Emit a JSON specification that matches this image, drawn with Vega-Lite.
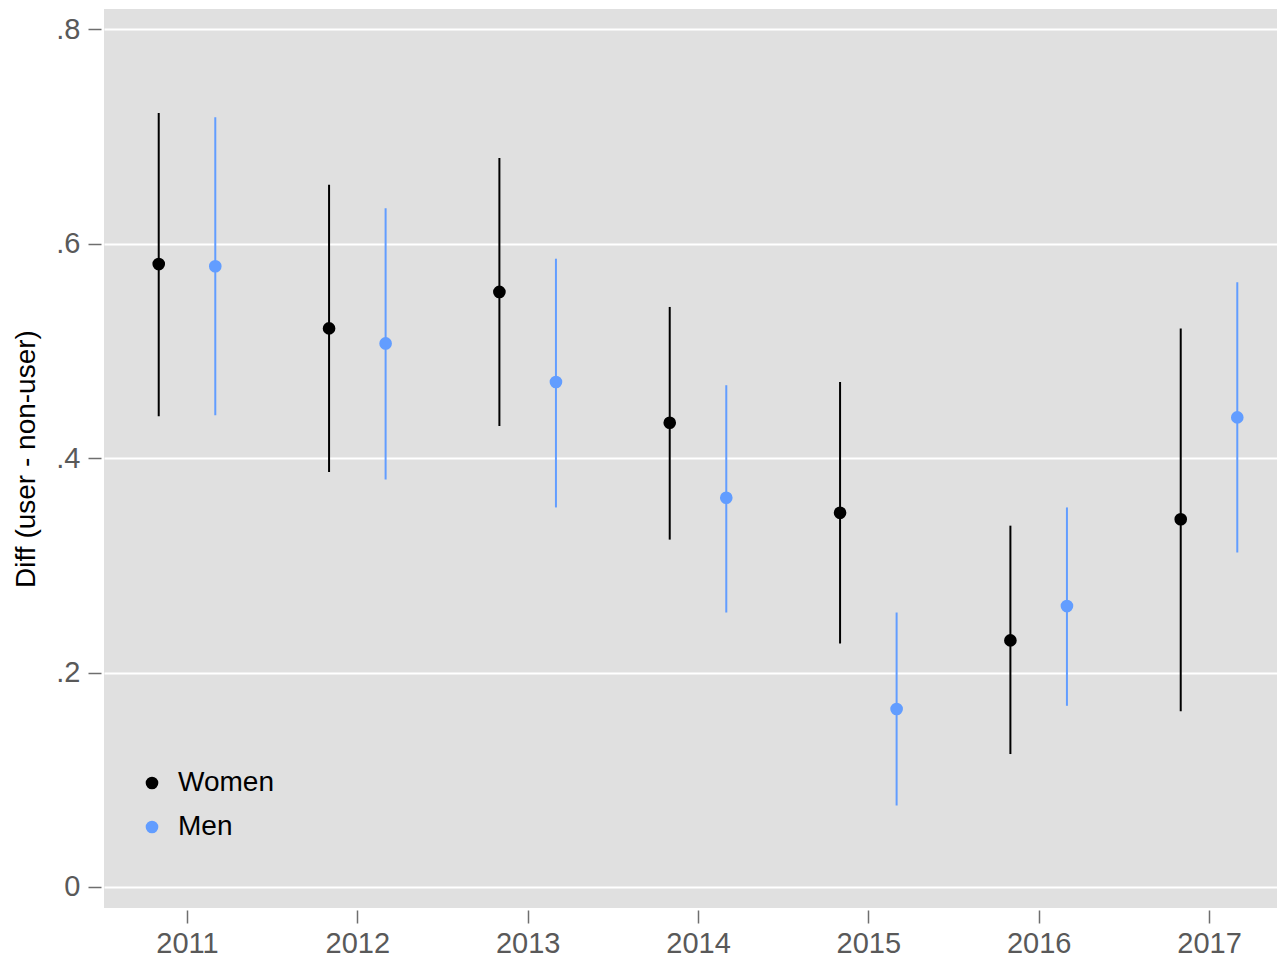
{
  "$schema": "https://vega.github.io/schema/vega-lite/v6.json",
  "width": 1173,
  "height": 899,
  "autosize": {"type": "none"},
  "padding": {"left": 104, "top": 9, "right": 0, "bottom": 51},
  "background": "white",
  "config": {
    "font": "Liberation Sans",
    "view": {"fill": "#e0e0e0", "stroke": null}
  },
  "data": {
    "values": [
      {"year": 2011, "group": "Women", "est": 0.581, "lo": 0.439, "hi": 0.722},
      {"year": 2011, "group": "Men", "est": 0.579, "lo": 0.440, "hi": 0.718},
      {"year": 2012, "group": "Women", "est": 0.521, "lo": 0.387, "hi": 0.655},
      {"year": 2012, "group": "Men", "est": 0.507, "lo": 0.380, "hi": 0.633},
      {"year": 2013, "group": "Women", "est": 0.555, "lo": 0.430, "hi": 0.680},
      {"year": 2013, "group": "Men", "est": 0.471, "lo": 0.354, "hi": 0.586},
      {"year": 2014, "group": "Women", "est": 0.433, "lo": 0.324, "hi": 0.541},
      {"year": 2014, "group": "Men", "est": 0.363, "lo": 0.256, "hi": 0.468},
      {"year": 2015, "group": "Women", "est": 0.349, "lo": 0.227, "hi": 0.471},
      {"year": 2015, "group": "Men", "est": 0.166, "lo": 0.076, "hi": 0.256},
      {"year": 2016, "group": "Women", "est": 0.230, "lo": 0.124, "hi": 0.337},
      {"year": 2016, "group": "Men", "est": 0.262, "lo": 0.169, "hi": 0.354},
      {"year": 2017, "group": "Women", "est": 0.343, "lo": 0.164, "hi": 0.521},
      {"year": 2017, "group": "Men", "est": 0.438, "lo": 0.312, "hi": 0.564}
    ]
  },
  "transform": [
    {"calculate": "datum.year + (datum.group === 'Women' ? -0.166 : 0.166)", "as": "pos"}
  ],
  "encoding": {
    "x": {
      "field": "pos",
      "type": "quantitative",
      "scale": {"domain": [2010.5127, 2017.3992], "nice": false, "zero": false},
      "axis": {
        "values": [2011, 2012, 2013, 2014, 2015, 2016, 2017],
        "format": "d",
        "title": null,
        "grid": false,
        "domain": false,
        "ticks": true,
        "tickColor": "#6e6e6e",
        "tickSize": 13,
        "tickWidth": 1.5,
        "offset": 2,
        "labelFontSize": 29,
        "labelColor": "#595959",
        "labelPadding": 6
      }
    }
  },
  "layer": [
    {
      "mark": {"type": "rule", "strokeWidth": 2},
      "encoding": {
        "y": {
          "field": "lo",
          "type": "quantitative",
          "scale": {"domain": [-0.0196, 0.8189], "nice": false, "zero": false},
          "axis": {
            "values": [0, 0.2, 0.4, 0.6, 0.8],
            "labelExpr": "datum.value == 0 ? '0' : replace(format(datum.value, '.1f'), '0.', '.')",
            "title": "Diff (user - non-user)",
            "titleFontSize": 28,
            "titleFontWeight": "normal",
            "titleColor": "#000000",
            "titlePadding": 15,
            "grid": true,
            "gridColor": "#ffffff",
            "gridWidth": 2,
            "domain": false,
            "tickColor": "#6e6e6e",
            "tickSize": 13,
            "tickWidth": 1.5,
            "offset": 3,
            "labelFontSize": 29,
            "labelColor": "#595959",
            "labelPadding": 8
          }
        },
        "y2": {"field": "hi"},
        "color": {
          "field": "group",
          "type": "nominal",
          "scale": {"domain": ["Women", "Men"], "range": ["#000000", "#629dff"]},
          "legend": {
            "title": null,
            "orient": "none",
            "legendX": 34,
            "legendY": 760,
            "symbolType": "circle",
            "symbolSize": 160,
            "symbolStrokeWidth": 0,
            "labelFontSize": 28,
            "labelColor": "#000000",
            "labelOffset": 12,
            "rowPadding": 16
          }
        }
      }
    },
    {
      "mark": {"type": "point", "filled": true, "opacity": 1, "size": 160},
      "encoding": {
        "y": {"field": "est", "type": "quantitative"},
        "color": {"field": "group", "type": "nominal"}
      }
    }
  ]
}
